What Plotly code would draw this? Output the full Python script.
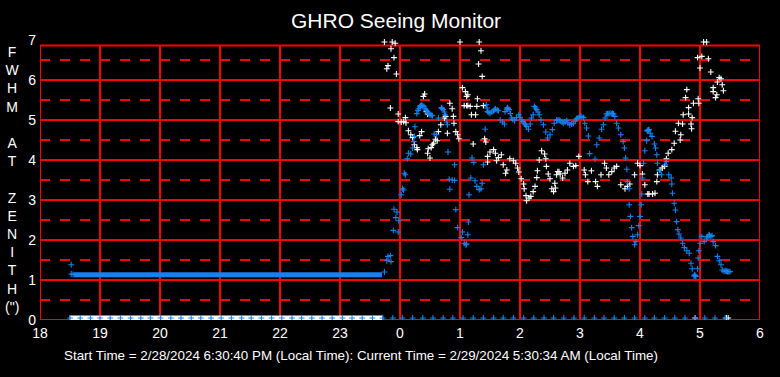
import plotly.graph_objects as go

# ---------------- data (hours since midnight of start day; 24+ = next day) -------------
X_TICKVALS = [18, 19, 20, 21, 22, 23, 24, 25, 26, 27, 28, 29, 30]
X_TICKTEXT = ["18", "19", "20", "21", "22", "23", "0", "1", "2", "3", "4", "5", "6"]
Y_TICKVALS = [0, 1, 2, 3, 4, 5, 6, 7]

# long flat stretch of the blue series before dark
FLAT_BLUE_T = [18.56, 23.70]
FLAT_BLUE_V = [1.13, 1.13]
EARLY_BLUE_T = [18.52, 18.52, 18.55]
EARLY_BLUE_V = [1.38, 1.15, 1.14]

# long stretch of the white series sitting at (just above) zero
FLAT_WHITE_T = [18.49, 23.72]
FLAT_WHITE_V = [0.05, 0.05]

# blue series
BLUE_T = [23.74, 23.78, 23.80, 23.84, 23.85, 23.89, 23.90, 23.93, 23.95, 23.97, 23.98,
          24.02, 24.04, 24.06, 24.07, 24.09, 24.12, 24.14, 24.18, 24.21, 24.23, 24.24,
          24.25, 24.28, 24.31, 24.34, 24.38, 24.42, 24.46, 24.50, 24.54, 24.57, 24.61,
          24.64, 24.69, 24.72, 24.75, 24.78, 24.79, 24.80, 24.82, 24.83, 24.87, 24.91,
          24.91, 24.93, 24.96, 25.02, 25.04, 25.07, 25.10, 25.11, 25.13, 25.14, 25.15,
          25.18, 25.20, 25.23, 25.25, 25.28, 25.32, 25.35, 25.37, 25.39, 25.42, 25.44,
          25.46, 25.50, 25.56, 25.59, 25.64, 25.67, 25.71, 25.74, 25.75, 25.79, 25.82,
          25.86, 25.91, 25.94, 25.98, 26.03, 26.07, 26.11, 26.14, 26.17, 26.19, 26.22,
          26.24, 26.28, 26.32, 26.39, 26.43, 26.46, 26.50, 26.54, 26.57, 26.61, 26.65,
          26.67, 26.72, 26.78, 26.83, 26.89, 26.94, 27.00, 27.06, 27.08, 27.11, 27.14,
          27.16, 27.25, 27.28, 27.32, 27.36, 27.39, 27.42, 27.44, 27.50, 27.56, 27.58,
          27.61, 27.64, 27.68, 27.72, 27.74, 27.76, 27.78, 27.79, 27.82, 27.82, 27.84,
          27.86, 27.88, 27.91, 27.93, 27.96, 27.98, 28.00, 28.02, 28.03, 28.04, 28.06,
          28.08, 28.11, 28.13, 28.15, 28.17, 28.20, 28.24, 28.26, 28.28, 28.29, 28.32,
          28.36, 28.42, 28.44, 28.48, 28.52, 28.53, 28.54, 28.57, 28.59, 28.61, 28.63,
          28.65, 28.68, 28.71, 28.74, 28.78, 28.82, 28.85, 28.87, 28.91, 28.93, 28.96,
          28.97, 28.98, 29.00, 29.03, 29.07, 29.11, 29.15, 29.18, 29.22, 29.26, 29.29,
          29.32, 29.35, 29.37, 29.42, 29.46, 29.50,
          # extra points read from the dense ribbons
          24.30, 24.33, 24.36, 24.40, 24.44, 24.48, 24.52, 24.70, 24.74, 25.45, 25.48,
          25.53, 25.58, 25.62, 25.78, 25.80, 25.84, 25.88, 26.00, 26.05, 26.09, 26.26,
          26.30, 26.35, 26.63, 26.70, 26.75, 26.80, 26.86, 26.92, 26.97, 27.03, 27.46,
          27.48, 27.53, 27.54, 28.90, 28.92, 29.40, 29.44, 29.48, 28.12, 28.14, 29.13,
          29.16, 29.20]
BLUE_V = [1.20, 1.48, 1.59, 1.61, 1.46, 2.24, 2.77, 2.56, 2.70, 2.20, 2.48,
          3.13, 3.28, 3.25, 3.67, 3.63, 4.03, 4.17, 4.15, 4.30, 4.46, 4.59,
          4.83, 5.16, 5.28, 5.36, 5.36, 5.28, 5.20, 5.13, 5.11, 4.65, 4.63,
          5.05, 5.31, 5.26, 5.13, 4.95, 4.88, 4.20, 3.52, 3.27, 3.50, 3.49,
          3.88, 2.76, 2.31, 2.06, 2.20, 1.92, 1.88, 1.90, 2.13, 2.45, 3.13,
          3.55, 4.05, 3.94, 3.48, 3.34, 3.26, 3.28, 3.42, 3.88, 4.77, 5.38,
          5.21, 5.17, 5.23, 5.28, 5.23, 5.00, 4.95, 4.90, 5.21, 5.31, 5.26,
          5.05, 4.98, 5.06, 5.13, 5.00, 4.92, 4.84, 4.77, 4.90, 5.05, 5.13,
          5.34, 5.26, 5.13, 4.88, 4.70, 4.55, 4.63, 4.76, 4.92, 5.00, 5.00,
          4.98, 4.92, 4.98, 4.88, 4.92, 5.03, 5.09, 5.06, 4.92, 4.80, 4.60,
          4.16, 4.02, 4.38, 4.55, 4.77, 4.88, 5.05, 5.15, 5.17, 5.15, 5.09,
          4.92, 4.80, 4.63, 4.46, 4.30, 4.05, 3.77, 3.46, 3.28, 2.88, 2.59,
          2.31, 2.09, 1.88, 1.96, 2.13, 2.36, 2.59, 2.88, 3.15, 3.55, 3.92,
          4.23, 4.48, 4.72, 4.76, 4.67, 4.59, 4.40, 4.30, 4.13, 3.92, 3.75,
          3.63, 3.88, 3.96, 3.63, 3.55, 3.40, 3.17, 2.92, 2.75, 2.46, 2.26,
          2.15, 2.05, 1.92, 1.81, 1.73, 1.67, 1.42, 1.28, 1.13, 1.09, 1.28,
          1.55, 1.73, 1.92, 2.09, 1.96, 2.05, 2.13, 2.09, 1.96, 1.86, 1.59,
          1.48, 1.38, 1.25, 1.23, 1.21, 1.21,
          5.24, 5.33, 5.37, 5.33, 5.24, 5.16, 5.12, 5.29, 5.20, 5.30, 5.19,
          5.20, 5.26, 5.25, 5.27, 5.29, 5.16, 5.01, 5.07, 4.96, 4.88, 5.30,
          5.20, 5.00, 4.99, 4.95, 4.95, 4.93, 4.90, 4.97, 5.06, 5.08, 5.16,
          5.16, 5.16, 5.17, 1.10, 1.11, 1.22, 1.22, 1.21, 4.74, 4.75, 2.09,
          2.12, 2.11]

# white series
WHITE_T = [23.74, 23.78, 23.80, 23.84, 23.85, 23.87, 23.90, 23.92, 23.94, 23.97, 23.97,
           24.02, 24.06, 24.09, 24.10, 24.14, 24.18, 24.21, 24.24, 24.28, 24.29, 24.33,
           24.36, 24.39, 24.41, 24.44, 24.46, 24.46, 24.47, 24.50, 24.52, 24.54, 24.56,
           24.59, 24.62, 24.64, 24.68, 24.74, 24.76, 24.79, 24.83, 24.87, 24.89, 24.90,
           24.93, 24.96, 24.98, 25.00, 25.04, 25.07, 25.09, 25.11, 25.11, 25.13, 25.13,
           25.17, 25.19, 25.22, 25.26, 25.28, 25.29, 25.31, 25.32, 25.35, 25.37, 25.39,
           25.41, 25.43, 25.46, 25.46, 25.50, 25.56, 25.59, 25.61, 25.64, 25.69, 25.72,
           25.76, 25.78, 25.83, 25.89, 25.93, 25.96, 25.98, 26.02, 26.06, 26.07, 26.10,
           26.11, 26.15, 26.18, 26.22, 26.25, 26.28, 26.29, 26.32, 26.36, 26.41, 26.43,
           26.44, 26.47, 26.50, 26.53, 26.56, 26.58, 26.59, 26.61, 26.63, 26.65, 26.67,
           26.71, 26.75, 26.79, 26.83, 26.89, 26.93, 26.98, 27.07, 27.09, 27.13, 27.19,
           27.26, 27.29, 27.35, 27.41, 27.44, 27.48, 27.53, 27.57, 27.61, 27.68, 27.75,
           27.79, 27.83, 27.91, 27.96, 28.00, 28.04, 28.08, 28.13, 28.15, 28.21, 28.25,
           28.28, 28.29, 28.33, 28.37, 28.41, 28.44, 28.47, 28.53, 28.57, 28.59, 28.64,
           28.67, 28.68, 28.71, 28.72, 28.76, 28.78, 28.81, 28.81, 28.85, 28.86, 28.87,
           28.89, 28.92, 28.96, 28.97, 28.98, 29.00, 29.03, 29.06, 29.11, 29.14, 29.18,
           29.22, 29.22, 29.26, 29.28, 29.29, 29.32, 29.35, 29.37, 29.39, 29.44, 29.47]
WHITE_V = [6.95, 6.28, 6.36, 5.30, 6.78, 6.95, 6.56, 6.92, 6.15, 5.15, 4.96,
           4.95, 4.96, 5.06, 4.93, 4.73, 4.63, 4.56, 4.38, 4.31, 4.26, 4.61,
           4.71, 5.59, 5.65, 5.21, 5.15, 4.17, 4.28, 4.05, 4.31, 4.38, 4.42,
           4.52, 4.48, 4.71, 4.88, 5.05, 5.09, 4.67, 5.42, 5.28, 5.09, 4.92,
           4.71, 4.63, 4.53, 6.95, 5.81, 5.36, 5.71, 5.59, 5.36, 5.63, 5.36,
           5.34, 5.13, 4.40, 5.13, 5.34, 5.53, 6.40, 6.95, 6.73, 6.09, 5.36,
           4.53, 4.45, 4.09, 3.95, 4.20, 4.26, 4.17, 3.98, 4.06, 4.13, 3.88,
           3.67, 3.75, 4.03, 3.98, 3.92, 3.80, 3.70, 3.53, 3.40, 3.28, 3.11,
           2.98, 3.05, 3.09, 3.21, 3.34, 3.56, 3.73, 4.00, 4.23, 4.15, 4.03,
           3.84, 3.65, 3.53, 3.28, 3.21, 3.42, 3.30, 3.63, 3.71, 3.71, 3.65,
           3.55, 3.67, 3.75, 3.92, 3.84, 3.86, 4.09, 3.75, 3.63, 3.46, 3.73,
           3.46, 3.34, 3.63, 3.92, 3.80, 3.63, 3.71, 3.80, 3.84, 3.38, 3.28,
           3.34, 3.40, 3.63, 3.92, 3.86, 3.65, 3.38, 3.15, 3.15, 3.15, 3.17,
           3.46, 3.63, 3.75, 3.80, 3.84, 4.03, 4.17, 4.26, 4.42, 4.72, 4.92,
           4.50, 4.63, 4.90, 5.13, 5.56, 5.76, 5.15, 5.31, 4.90, 4.78, 5.06,
           5.42, 0.05, 6.56, 5.53, 5.42, 6.30, 6.59, 6.95, 6.95, 6.53, 6.20,
           5.81, 5.71, 5.56, 5.63, 5.95, 6.06, 6.03, 5.88, 5.73, 0.05, 0.05]

# blue markers near zero, logged roughly every ten minutes all night
ZERO_BLUE_T = [18.50, 18.67, 18.84, 19.00, 19.17, 19.34, 19.51, 19.68, 19.84, 20.01,
               20.18, 20.35, 20.52, 20.68, 20.85, 21.02, 21.19, 21.36, 21.52, 21.69,
               21.86, 22.03, 22.20, 22.36, 22.53, 22.70, 22.87, 23.04, 23.20, 23.37,
               23.54, 23.71, 23.88, 24.04, 24.21, 24.38, 24.55, 24.72, 24.88, 25.05,
               25.22, 25.39, 25.56, 25.72, 25.89, 26.06, 26.23, 26.40, 26.56, 26.73,
               26.90, 27.07, 27.24, 27.40, 27.57, 27.74, 27.91, 28.08, 28.24, 28.41,
               28.58, 28.75, 28.92, 29.08, 29.25, 29.42]
ZERO_BLUE_V = [0.05] * len(ZERO_BLUE_T)

TITLE = "GHRO Seeing Monitor"
Y_LABEL = "F<br>W<br>H<br>M<br> <br>A<br>T<br> <br>Z<br>E<br>N<br>I<br>T<br>H<br>(\")"
FOOTER = ("Start Time = 2/28/2024 6:30:40 PM (Local Time): "
          "Current Time = 2/29/2024 5:30:34 AM (Local Time)")

# ---------------- styling -------------
BLUE = "#1682ee"
WHITE = "#ffffff"
RED = "#ff0000"
FONT = "Liberation Sans, Arial, sans-serif"
X_MIN, X_MAX = 18, 30
Y_TOP_FRAME = 6.865

W, H = 780, 377
ML, MR, MT, MB = 40, 20, 36, 57


def px_to_paper_x(px):
    return (px - ML) / (W - ML - MR)


def px_to_paper_y(py):
    return (H - MB - py) / (H - MT - MB)


def cross(color, size=4.2):
    return dict(symbol="cross-thin", size=size, color=color,
                line=dict(width=1.1, color=color))


fig = go.Figure()

# white flat near zero
fig.add_trace(go.Scatter(x=FLAT_WHITE_T, y=FLAT_WHITE_V, mode="lines",
                         line=dict(color=WHITE, width=5), hoverinfo="skip"))
# white series
fig.add_trace(go.Scatter(x=WHITE_T, y=WHITE_V, mode="markers",
                         marker=cross(WHITE), hoverinfo="skip"))
# blue flat
fig.add_trace(go.Scatter(x=FLAT_BLUE_T, y=FLAT_BLUE_V, mode="lines",
                         line=dict(color=BLUE, width=5), hoverinfo="skip"))
fig.add_trace(go.Scatter(x=EARLY_BLUE_T, y=EARLY_BLUE_V, mode="markers",
                         marker=cross(BLUE), hoverinfo="skip"))
# blue series
fig.add_trace(go.Scatter(x=BLUE_T, y=BLUE_V, mode="markers",
                         marker=cross(BLUE), hoverinfo="skip"))
# blue markers near zero
fig.add_trace(go.Scatter(x=ZERO_BLUE_T, y=ZERO_BLUE_V, mode="markers",
                         marker=cross(BLUE), hoverinfo="skip"))

shapes = []
# vertical grid lines (incl. frame sides)
for xv in X_TICKVALS:
    shapes.append(dict(type="line", xref="x", yref="y", x0=xv, x1=xv, y0=0, y1=Y_TOP_FRAME,
                       line=dict(color=RED, width=2), layer="below"))
# solid horizontal grid lines
for yv in Y_TICKVALS[:-1]:
    shapes.append(dict(type="line", xref="x", yref="y", x0=X_MIN, x1=X_MAX, y0=yv, y1=yv,
                       line=dict(color=RED, width=2), layer="below"))
# top frame
shapes.append(dict(type="line", xref="x", yref="y", x0=X_MIN, x1=X_MAX,
                   y0=Y_TOP_FRAME, y1=Y_TOP_FRAME, line=dict(color=RED, width=2), layer="below"))
# dashed half-unit lines
for yv in Y_TICKVALS[:-1]:
    shapes.append(dict(type="line", xref="x", yref="y", x0=X_MIN, x1=X_MAX,
                       y0=yv + 0.5, y1=yv + 0.5,
                       line=dict(color=RED, width=2, dash="10px,10px"), layer="below"))

annotations = [
    dict(text=TITLE, x=px_to_paper_x(396), y=px_to_paper_y(21), xref="paper", yref="paper",
         showarrow=False, xanchor="center", yanchor="middle",
         font=dict(family=FONT, size=21, color=WHITE)),
    dict(text=Y_LABEL, x=px_to_paper_x(12), y=px_to_paper_y(179), xref="paper", yref="paper",
         showarrow=False, xanchor="center", yanchor="middle", align="center",
         font=dict(family=FONT, size=14, color=WHITE)),
    dict(text=FOOTER, x=px_to_paper_x(361), y=px_to_paper_y(355), xref="paper", yref="paper",
         showarrow=False, xanchor="center", yanchor="middle",
         font=dict(family=FONT, size=13.4, color=WHITE)),
]

fig.update_layout(
    width=W, height=H,
    margin=dict(l=ML, r=MR, t=MT, b=MB, pad=0),
    paper_bgcolor="black", plot_bgcolor="black",
    showlegend=False,
    font=dict(family=FONT, color=WHITE, size=14),
    shapes=shapes,
    annotations=annotations,
    xaxis=dict(range=[X_MIN, X_MAX], tickvals=X_TICKVALS, ticktext=X_TICKTEXT,
               showgrid=False, zeroline=False, showline=False, ticks="",
               ticklabelstandoff=3,
               tickfont=dict(family=FONT, size=14, color=WHITE), fixedrange=True),
    yaxis=dict(range=[0, 7.1], tickvals=Y_TICKVALS, ticktext=[str(v) for v in Y_TICKVALS],
               showgrid=False, zeroline=False, showline=False, ticks="",
               ticklabelstandoff=3,
               tickfont=dict(family=FONT, size=14, color=WHITE), fixedrange=True),
)

fig.write_html("out.html", config={"displayModeBar": False},
               post_script="document.body.style.margin='0';document.body.style.padding='0';")
